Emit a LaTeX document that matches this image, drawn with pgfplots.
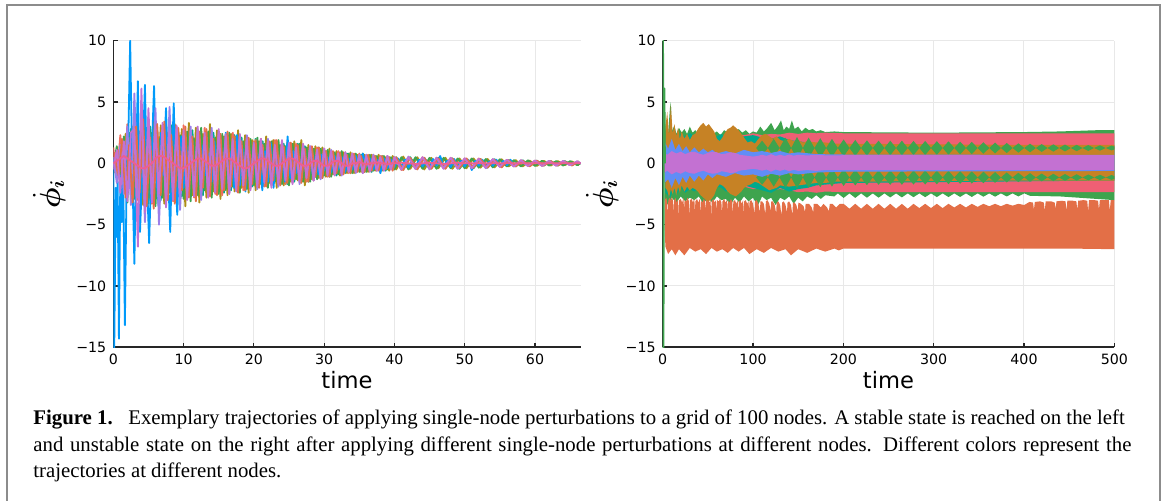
\documentclass[border=0pt]{standalone}
\usepackage{fontspec}
\setmainfont{Liberation Serif}
\setsansfont{DejaVu Sans}
\usepackage{bm}
\usepackage{pgfplots}
\usepackage{pgfplotstable}
\pgfplotsset{compat=1.18}

\definecolor{jblue}{HTML}{009AFA}
\definecolor{jorred}{HTML}{E36F47}
\definecolor{jgreen}{HTML}{3EA44E}
\definecolor{jpurple}{HTML}{C371D2}
\definecolor{jolive}{HTML}{AC8E18}
\definecolor{jteal}{HTML}{00A98D}
\definecolor{jpink}{HTML}{ED5E93}
\definecolor{jorange}{HTML}{C68225}
\definecolor{jlav}{HTML}{9B7FE9}
\definecolor{jblue2}{HTML}{618DF6}
\definecolor{jred}{HTML}{F16C5C}
\definecolor{jrose}{HTML}{EF5F74}
\definecolor{framegray}{HTML}{8C8C8C}

% left panel, nodes sampled every 0.5 (every 1 after t=40)
\pgfplotstableread{
t a b c g h
0 1.3 -0.3 0.5 -0.5 0.0
0.5 -1.2 1.4 -1.6 1.1 0.2
1.0 2.3 -2.0 1.5 -2.4 0.4
1.5 -1.8 2.2 -2.5 1.8 0.6
2.0 3.2 -3.2 3.0 -3.1 0.4
2.5 -2.6 2.8 -3.4 2.5 0.2
3.0 3.5 -2.9 5.7 2.8 0.0
3.5 -3.0 3.4 -2.8 -6.8 -0.2
4.0 3.8 -2.2 3.6 6.1 -0.4
4.5 -2.5 3.1 -4.8 -4.0 -0.4
5.0 3.7 -3.3 2.6 4.5 -0.2
5.5 -3.3 2.5 -3.0 -3.2 0.0
6.0 2.8 -3.5 4.5 3.0 0.4
6.5 -3.6 2.0 -5.0 -2.5 0.6
7.0 3.0 -2.8 2.4 3.3 0.6
7.5 -2.4 3.2 -3.1 -3.6 0.4
8.0 3.3 -2.4 4.6 2.6 0.2
8.5 -3.1 2.7 -2.6 -3.0 0.0
9.0 2.5 -3.0 3.0 3.1 -0.2
9.5 -2.9 2.3 -3.8 -2.4 -0.4
10 3.1 -2.9 2.2 2.7 -0.4
10.5 -2.2 2.6 -2.7 -3.0 -0.2
11 2.7 -3.1 3.0 2.0 0.0
11.5 -2.8 2.0 -2.3 -2.7 0.2
12 2.2 -2.6 2.8 3.0 0.4
12.5 -2.7 2.9 -3.0 -2.2 0.4
13 2.9 -2.2 2.1 2.5 0.2
13.5 -2.0 2.6 -2.6 -2.8 0.0
14 2.6 -2.8 2.9 2.2 -0.2
14.5 -2.5 2.1 -2.2 -2.4 -0.2
15 2.3 -2.5 2.6 2.8 0.0
15.5 -2.6 2.4 -2.0 -2.1 0.2
16 2.0 -2.2 2.4 2.3 0.4
16.5 -2.3 2.5 -2.5 -2.5 0.4
17 2.5 -1.9 2.0 1.9 0.2
17.5 -2.0 2.2 -2.3 -2.2 0.0
18 2.2 -2.4 2.2 2.4 -0.2
18.5 -2.2 1.8 -1.8 -1.8 -0.4
19 1.9 -2.1 2.3 2.0 -0.4
19.5 -2.1 2.0 -2.0 -2.2 -0.2
20 1.8 -1.8 1.7 1.6 0.0
20.5 -1.6 2.1 -2.1 -1.9 0.2
21 2.0 -1.7 1.9 2.0 0.4
21.5 -1.9 1.6 -1.6 -1.5 0.4
22 1.6 -2.0 2.0 1.8 0.2
22.5 -1.8 1.8 -1.8 -2.0 0.0
23 1.9 -1.5 1.5 1.5 -0.2
23.5 -1.5 1.9 -1.9 -1.7 -0.2
24 1.7 -1.7 1.8 1.9 0.0
24.5 -1.7 1.4 -1.4 -1.4 0.2
25 1.4 -1.8 1.7 1.6 0.4
25.5 -1.6 1.6 -1.6 -1.7 0.4
26 1.6 -1.3 1.3 1.3 0.2
26.5 -1.3 1.6 -1.7 -1.5 0.0
27 1.5 -1.5 1.5 1.6 -0.2
27.5 -1.5 1.3 -1.2 -1.2 -0.2
28 1.2 -1.5 1.4 1.4 0.0
28.5 -1.4 1.2 -1.4 -1.4 0.2
29 1.3 -1.3 1.1 1.1 0.2
29.5 -1.1 1.2 -1.3 -1.2 0.0
30 1.2 -1.0 1.2 1.2 -0.2
30.5 -1.1 1.1 -1.0 -0.9 -0.2
31 1.0 -1.1 1.1 1.0 0.0
31.5 -0.9 0.9 -0.9 -1.0 0.2
32 1.0 -0.9 0.8 0.8 0.2
32.5 -0.8 1.0 -1.0 -0.9 0.0
33 0.9 -0.8 0.9 0.9 -0.2
33.5 -0.8 0.8 -0.7 -0.7 -0.2
34 0.8 -0.8 0.8 0.8 0.0
34.5 -0.7 0.8 -0.8 -0.7 0.0
35 0.8 -0.7 0.7 0.7 0.1
35.5 -0.7 0.8 -0.8 -0.8 0.0
36 0.7 -0.7 0.7 0.6 -0.1
36.5 -0.6 0.7 -0.6 -0.7 0.0
37 0.7 -0.6 0.7 0.6 0.0
37.5 -0.6 0.6 -0.6 -0.6 0.1
38 0.6 -0.6 0.5 0.5 0.0
38.5 -0.5 0.6 -0.6 -0.6 0.0
39 0.6 -0.5 0.6 0.6 -0.1
39.5 -0.5 0.5 -0.5 -0.5 0.0
40 0.5 -0.5 0.5 0.5 0.0
41 -0.55 0.5 -0.5 -0.5 0.05
42 0.5 -0.5 0.55 0.5 0.0
43 -0.45 0.5 -0.45 -0.45 -0.05
44 0.5 -0.45 0.45 0.5 0.0
45 -0.45 0.45 -0.5 -0.45 0.05
46 0.45 -0.45 0.45 0.45 0.0
47 -0.4 0.45 -0.45 -0.4 -0.05
48 0.45 -0.4 0.4 0.45 0.0
49 -0.4 0.4 -0.45 -0.4 0.05
50 0.4 -0.4 0.4 0.4 0.0
51 -0.35 0.4 -0.35 -0.4 0.0
52 0.4 -0.35 0.35 0.35 0.0
53 -0.35 0.35 -0.4 -0.35 0.0
54 0.33 -0.33 0.33 0.33 0.0
55 -0.28 0.33 -0.28 -0.28 0.0
56 0.3 -0.26 0.26 0.3 0.0
57 -0.26 0.26 -0.26 -0.26 0.0
58 0.25 -0.25 0.25 0.25 0.0
59 -0.22 0.25 -0.22 -0.22 0.0
60 0.22 -0.22 0.22 0.22 0.0
61 -0.21 0.21 -0.18 -0.21 0.0
62 0.18 -0.18 0.21 0.18 0.0
63 -0.18 0.18 -0.18 -0.18 0.0
64 0.18 -0.18 0.18 0.18 0.0
65 -0.15 0.18 -0.15 -0.15 0.0
66 0.15 -0.15 0.15 0.15 0.0
66.5 0 0 0 0 0
}\tabA

\pgfplotstableread{
t d e f
0.25 -0.8 0.2 0.9
0.75 0.9 -0.8 -1.0
1.25 -1.5 1.8 2.0
1.75 2.4 -1.5 -2.8
2.25 -2.0 2.5 1.5
2.75 3.0 -2.8 -3.2
3.25 -3.1 2.2 3.0
3.75 2.6 -3.2 -2.4
4.25 -3.4 1.9 3.6
4.75 2.2 -2.6 -3.5
5.25 -2.9 3.0 2.1
5.75 3.4 -1.8 -3.7
6.25 -2.3 2.7 3.2
6.75 3.1 -3.0 -2.6
7.25 -3.3 2.0 3.4
7.75 2.5 -2.5 -3.0
8.25 -2.7 3.1 2.3
8.75 3.2 -1.9 -3.3
9.25 -2.2 2.6 2.9
9.75 2.8 -2.7 -2.2
10.25 -3.5 2.0 3.0
10.75 3.3 -2.4 -2.8
11.25 -2.6 2.7 2.2
11.75 2.9 -1.8 -3.1
12.25 -3.2 2.4 2.6
12.75 2.4 -2.6 -2.0
13.25 -2.8 1.9 2.8
13.75 3.2 -2.3 -2.7
14.25 -2.3 2.5 2.0
14.75 2.7 -2.0 -2.6
15.25 -2.9 2.2 2.4
15.75 2.2 -2.4 -2.2
16.25 -2.6 1.8 2.6
16.75 2.4 -2.2 -1.9
17.25 -2.3 2.3 2.2
17.75 2.7 -1.7 -2.4
18.25 -2.0 2.1 1.8
18.75 2.3 -2.1 -2.2
19.25 -2.4 1.7 2.1
19.75 1.9 -1.9 -1.7
20.25 -2.2 2.0 1.9
20.75 1.8 -1.5 -2.0
21.25 -1.9 1.8 1.5
21.75 2.2 -1.8 -1.9
22.25 -1.6 1.5 1.8
22.75 1.9 -1.7 -1.4
23.25 -2.0 1.8 1.9
23.75 1.5 -1.4 -1.8
24.25 -1.8 1.6 1.4
24.75 1.7 -1.7 -1.6
25.25 -1.5 1.3 1.7
25.75 1.8 -1.5 -1.3
26.25 -1.4 1.6 1.5
26.75 1.9 -1.2 -1.6
27.25 -1.8 1.4 1.2
27.75 1.5 -1.5 -1.5
28.25 -1.3 1.2 1.4
28.75 1.4 -1.1 -1.1
29.25 -1.2 1.3 1.3
29.75 1.3 -1.2 -1.2
30.25 -1.1 1.0 1.0
30.75 1.2 -1.1 -1.1
31.25 -0.9 0.9 1.0
31.75 1.0 -1.0 -0.8
32.25 -1.0 0.9 0.9
32.75 0.9 -0.8 -0.9
33.25 -0.8 0.8 0.7
33.75 0.9 -0.8 -0.8
34.25 -0.8 0.7 0.8
34.75 0.7 -0.6 -0.7
35.25 -0.7 0.7 0.6
35.75 0.7 -0.7 -0.7
36.25 -0.7 0.6 0.7
36.75 0.7 -0.7 -0.6
37.25 -0.6 0.6 0.6
37.75 0.7 -0.5 -0.6
38.25 -0.6 0.6 0.6
38.75 0.5 -0.6 -0.5
39.25 -0.6 0.5 0.5
39.75 0.6 -0.5 -0.6
40.25 -0.5 0.5 0.5
41.25 0.55 -0.5 -0.55
42.25 -0.45 0.5 0.45
43.25 0.5 -0.45 -0.5
44.25 -0.5 0.45 0.45
45.25 0.45 -0.4 -0.45
46.25 -0.4 0.45 0.4
47.25 0.45 -0.4 -0.45
48.25 -0.45 0.4 0.4
49.25 0.4 -0.45 -0.4
50.25 -0.4 0.35 0.4
51.25 0.4 -0.4 -0.35
52.25 -0.35 0.35 0.35
53.25 0.35 -0.35 -0.35
54.25 -0.33 0.33 0.28
55.25 0.33 -0.28 -0.33
56.25 -0.26 0.26 0.26
57.25 0.26 -0.26 -0.26
58.25 -0.25 0.25 0.22
59.25 0.22 -0.22 -0.25
60.25 -0.22 0.22 0.22
61.25 0.21 -0.18 -0.18
62.25 -0.18 0.18 0.18
63.25 0.18 -0.18 -0.18
64.25 -0.15 0.18 0.15
65.25 0.15 -0.15 -0.18
66.25 -0.15 0.15 0.15
}\tabB

\pgfplotsset{
  panel/.style={
    scale only axis, height=153.3pt,
    ymin=-15, ymax=10,
    axis lines*=left, xtick pos=bottom, ytick pos=left,
    axis line style={black!85, line width=0.8pt},
    tick align=inside, major tick length=2.2pt,
    tick style={black!85, line width=0.6pt},
    grid=major, major grid style={black!9, line width=0.5pt},
    ytick={-15,-10,-5,0,5,10},
    yticklabels={−15,−10,−5,0,5,10},
    tick label style={font=\sffamily\fontsize{7.1}{8}\selectfont},
    /pgf/number format/assume math mode=true,
    xlabel={time},
    xlabel style={at={(axis description cs:0.5,0)}, anchor=base,
      yshift=-20.85pt, font=\sffamily\fontsize{11.3}{13}\selectfont},
    ylabel={$\dot{\bm{\phi}}_{\bm{i}}$},
    ylabel style={anchor=center, font=\fontsize{14}{16}\selectfont},
  },
  trace/.style={line width=0.9pt, line join=round},
  band/.style={draw=none, fill=#1},
}

\begin{document}
\begin{tikzpicture}
\useasboundingbox (0,0) rectangle (582.5pt,250.5pt);
\draw[framegray, line width=1pt] (3.35pt,0) -- (3.35pt,248.15pt) -- (580pt,248.15pt) -- (580pt,0);

% ---------- left: stable ----------
\begin{axis}[panel, at={(56.65pt,76.85pt)}, width=233.7pt,
  xmin=0, xmax=66.5, xtick={0,10,...,60},
  ylabel style={at={(axis description cs:-0.137,0.5)}}]
\addplot[trace, jolive] table[x=t, y=d] {\tabB};
\addplot[trace, jteal] table[x=t, y=e] {\tabB};
\addplot[trace, jgreen] table[x=t, y=b] {\tabA};
\addplot[trace, jred] table[x=t, y=a] {\tabA};
\addplot[trace, jblue] coordinates {
(0,0.3)(0.12,-16)(0.35,-2)(0.5,-6.0)(0.62,-1.5)(0.8,-14.3)(1.0,-1)(1.2,-4.8)(1.4,-0.5)
(1.65,-13.2)(1.9,-1)(2.1,1)(2.4,10)(2.7,-0.5)(3.0,-8.2)(3.25,0.5)(3.5,6.7)(3.8,-5.6)
(4.1,-1)(4.5,6.4)(4.8,-1.5)(5.1,-6.5)(5.45,0.5)(5.8,6.3)(6.1,-1)(6.45,-3.5)(6.8,2.5)
(7.1,-1)(7.5,4.5)(7.8,-1)(8.1,-5.6)(8.35,0.5)(8.6,4.9)(8.85,-1)(9.1,-4.2)(9.4,1)
(9.7,2.2)(10,-2)(10.4,1.5)(10.8,-1.2)(11.2,2.0)(11.6,-1.5)(12,1.2)(12.4,-1.8)(12.8,1.5)
(13.2,-1)(13.6,0.8)(14,-1.5)(14.4,1.8)(14.8,-1.2)(15.2,1.4)(15.6,-0.8)(16,2.5)(16.4,-1.5)
(16.8,1.0)(17.2,-2.0)(17.6,2.3)(18,-1.8)(18.4,1.2)(18.8,-2.3)(19.2,1.5)(19.6,-1)(20,1.2)
(20.4,-1.6)(20.8,0.8)(21.2,-2.2)(21.6,1.0)(22,-1.5)(22.4,1.7)(22.8,-2.0)(23.2,1.2)
(23.6,-1.0)(24,0.8)(24.4,-1.5)(24.8,2.2)(25.2,-1.2)(25.6,1.0)(26,-0.8)(26.4,0.6)
(26.8,-1.0)(27.2,0.9)(27.6,-0.6)(28,0.8)(28.4,-1.0)(28.8,0.6)(29.2,-0.9)(29.6,0.7)
(30,-0.6)(30.5,0.5)(31,-0.7)(31.5,0.6)(32,-0.5)(32.5,0.5)(33,-0.7)(33.5,0.4)(34,-0.5)
(34.5,0.6)(35,-0.4)(35.5,0.8)(36,-0.3)(36.5,0.4)(37,-0.5)(37.5,0.3)(38,-0.8)(38.5,0.4)
(39,-0.4)(39.5,0.3)(40,-0.3)(40.5,0.4)(41,-0.3)(41.5,0.3)(42,-0.35)(42.5,0.25)(43,-0.3)
(43.5,0.3)(44,-0.25)(44.5,0.25)(45,-0.3)(45.5,0.35)(46,-0.2)(46.5,0.6)(47,-0.25)
(47.5,0.2)(48,-0.3)(48.5,0.35)(49,-0.2)(49.5,0.2)(50,-0.25)(50.5,0.3)(51,-0.55)
(51.5,0.2)(52,-0.2)(52.5,0.3)(53,-0.2)(53.5,0.15)(54,-0.2)(54.5,0.3)(55,-0.2)(55.5,0.2)
(56,-0.15)(56.5,0.3)(57,-0.2)(58,0.15)(59,-0.15)(60,0.1)(61,-0.12)(62,0.1)(63,-0.1)
(64,0.1)(65,-0.1)(66,0.08)(66.5,0)};
\addplot[trace, jlav] table[x=t, y=c] {\tabA};
\addplot[trace, jorred] table[x=t, y=f] {\tabB};
\addplot[trace, jpurple] table[x=t, y=g] {\tabA};
\addplot[trace, jpink] table[x=t, y=h] {\tabA};
\end{axis}

% ---------- right: unstable ----------
\begin{axis}[panel, at={(331.35pt,76.85pt)}, width=225.8pt,
  xmin=0, xmax=500, xtick={0,100,...,500},
  ylabel style={at={(axis description cs:-0.134,0.5)}}]
% green spread
\addplot[band=jgreen] coordinates {
(2,6.1)(3,2.5)(5,3.5)(6,2.4)(8,4.5)(9,5.0)(10,2.6)(13,3.1)(15,2.4)(18,2.9)(21,2.5)(24,2.8)
(27,2.4)(30,3.0)(33,2.5)(36,2.7)(40,2.4)(44,2.6)(48,2.3)(52,2.5)(56,2.4)(60,2.6)(64,2.3)
(68,2.7)(72,2.5)(76,2.6)(80,2.3)(84,2.8)(88,2.5)(92,2.7)(96,2.4)(100,2.6)(104,2.5)(108,3.0)
(112,2.6)(116,2.9)(120,3.3)(124,2.7)(128,3.1)(131,3.5)(134,2.7)(137,3.0)(140,2.8)(143,3.5)
(146,2.8)(150,3.0)(154,2.6)(158,2.9)(162,2.7)(166,2.8)(170,2.6)(175,2.7)(180,2.55)(190,2.6)
(200,2.55)(300,2.5)(400,2.55)(440,2.6)(480,2.7)(500,2.7)
(500,-3.0)(480,-2.9)(440,-2.7)(406.7,-2.65)(400.25,-2.45)(393.8,-2.7)(387.35,-2.45)
(380.9,-2.7)(374.45,-2.45)(368.0,-2.72)(361.55,-2.45)(355.1,-2.72)(348.65,-2.45)
(342.2,-2.74)(335.75,-2.45)(329.3,-2.74)(322.85,-2.45)(316.4,-2.75)(309.95,-2.45)
(303.5,-2.75)(297.05,-2.45)(290.6,-2.76)(284.15,-2.45)(277.7,-2.76)(271.25,-2.45)
(264.8,-2.78)(258.35,-2.45)(251.9,-2.78)(245.45,-2.45)(239.0,-2.8)(232.55,-2.45)
(226.1,-2.8)(219.65,-2.45)(213.2,-2.82)(206.75,-2.45)(200.3,-2.82)(193.85,-2.45)
(190,-2.7)(180,-2.6)(175,-2.9)
(170,-2.6)(165,-2.9)(160,-2.7)(155,-3.1)(150,-2.8)(145,-3.3)(140,-2.7)(135,-3.0)(130,-2.8)
(125,-3.4)(120,-2.8)(115,-3.0)(110,-2.7)(105,-3.5)(100,-2.8)(95,-3.1)(90,-2.7)(85,-3.2)
(80,-2.8)(75,-3.4)(70,-2.9)(65,-3.0)(60,-2.7)(55,-3.2)(50,-2.8)(45,-3.3)(40,-2.7)(35,-3.0)
(30,-2.8)(25,-3.1)(20,-2.7)(15,-3.2)(10,-2.8)(6,-3.4)(2,-3.0)};
% node with large negative offset
\addplot[band=jorred] coordinates {
(2,-2.4)(3,-3.0)(4,-2.8)(5,-3.2)(5.6,-4.3)(6.2,-3.0)(8,-2.8)(9,-3.1)(10,-2.7)(11.2,-3.0)
(11.8,-4.0)(12.4,-3.1)(14,-2.8)(15.5,-3.2)(17,-2.9)(17.6,-4.4)(18.2,-3.0)(20,-2.9)
(21.5,-3.2)(23,-2.8)(23.6,-3.9)(24.2,-3.0)(26,-3.1)(27.5,-2.8)(29,-3.1)(29.6,-4.5)
(30.2,-3.0)(32,-2.9)(33.5,-3.2)(35,-2.8)(35.6,-4.0)(36.2,-3.1)(38,-2.9)(39.5,-3.2)
(41,-2.9)(41.6,-4.3)(42.2,-3.0)(44,-3.2)(45.5,-2.9)(47,-3.1)(47.6,-3.9)(48.2,-3.0)
(50,-2.8)(51.5,-3.2)(53,-3.0)(53.6,-4.4)(54.2,-3.1)(56,-2.9)(57.5,-3.2)(59,-3.0)
(59.6,-4.0)(60.2,-3.0)(62,-3.1)(63.5,-2.9)(65,-3.2)(65.6,-4.2)(66.2,-3.1)(68,-2.9)
(69.5,-3.2)(71,-3.0)(71.6,-3.9)(72.2,-3.0)(74,-3.2)(75.5,-2.9)(77,-3.1)(77.6,-4.3)
(78.2,-3.1)(80,-3.0)(81.5,-3.3)(83,-3.0)(83.6,-4.0)(84.2,-3.1)(86,-3.0)(87.5,-3.3)
(89,-3.0)(89.6,-4.2)(90.2,-3.1)(92,-3.0)(93.5,-3.3)(95,-3.1)(95.6,-3.9)(96.2,-3.1)
(98,-3.0)(100,-3.3)(101.6,-4.1)(102.2,-3.1)(104,-3.0)(106,-3.3)(107.6,-4.0)(108.2,-3.1)
(110,-3.1)(112,-3.3)(113.6,-4.2)(114.2,-3.1)(116,-3.0)(118,-3.3)(119.6,-3.9)(120.2,-3.1)
(122,-3.1)(124,-3.4)(125.6,-4.1)(126.2,-3.2)(128,-3.1)(130,-3.4)(131.6,-4.3)(132.2,-3.2)
(134,-3.1)(136,-3.4)(137.6,-4.0)(138.2,-3.2)(140,-3.1)(142,-3.4)(143.6,-4.2)(144.2,-3.2)
(146,-3.2)(148,-3.4)(149.6,-3.9)(150.2,-3.2)(153,-3.3)(156,-3.5)(157.6,-4.0)(158.2,-3.3)
(162,-3.3)(165,-3.6)(166.6,-4.0)(167.2,-3.3)(171,-3.3)(175,-3.6)(178,-3.3)(182,-3.6)
(184,-3.9)(185,-3.3)(188,-3.3)(192,-3.6)(196,-3.3)
(200.3,-3.3)(206.7,-3.7)(213.2,-3.3)(219.6,-3.7)(226.1,-3.3)(232.5,-3.7)(239.0,-3.3)
(245.4,-3.7)(251.9,-3.3)(258.3,-3.7)(264.8,-3.3)(271.2,-3.7)(277.7,-3.3)(284.1,-3.65)
(290.6,-3.3)(297.0,-3.65)(303.5,-3.3)(309.9,-3.65)(316.4,-3.3)(322.8,-3.6)(329.3,-3.3)
(335.7,-3.6)(342.2,-3.3)(348.6,-3.55)(355.1,-3.3)(361.5,-3.5)(368.0,-3.3)(374.4,-3.5)
(380.9,-3.3)(387.3,-3.45)(393.8,-3.3)(400.2,-3.4)
(406,-3.15)(410,-3.2)(411,-3.8)(412,-3.15)(418,-3.1)(422,-3.2)(423,-3.9)(424,-3.1)
(430,-3.1)(434,-3.2)(435,-3.7)(436,-3.1)(442,-3.05)(446,-3.1)(447,-3.9)(448,-3.05)
(454,-3.05)(458,-3.1)(459,-3.8)(460,-3.05)(466,-3.0)(470,-3.05)(471,-3.9)(472,-3.0)
(478,-3.0)(482,-3.05)(483,-3.8)(484,-3.0)(490,-3.0)(494,-3.0)(495,-3.9)(496,-3.0)(500,-3.0)
(500,-7.0)(450,-6.95)(400,-6.95)(300,-6.95)(200,-6.95)(195,-7.1)(190,-6.95)(180,-7.2)
(170,-6.95)(160,-7.3)(150,-7.0)(142,-7.5)(136,-7.0)(128,-7.2)(120,-6.9)(112,-7.3)(104,-7.0)
(96,-7.4)(90,-6.9)(84,-7.2)(78,-6.9)(72,-7.3)(66,-7.0)(60,-7.2)(54,-6.9)(48,-7.4)(42,-7.0)
(36,-7.2)(30,-6.9)(24,-7.5)(18,-7.0)(14,-7.5)(10,-7.0)(6,-7.4)(3,-6.8)(2,-5.0)};
% rose band
\addplot[band=jrose] coordinates {
(60,2.0)(70,2.2)(80,2.4)(90,2.3)(100,2.45)(110,2.3)(120,2.4)(130,2.35)(140,2.5)(150,2.4)
(160,2.5)(170,2.45)(180,2.5)(200,2.45)(300,2.45)(400,2.45)(500,2.45)
(500,-2.35)(400,-2.35)(300,-2.35)(200,-2.35)(180,-2.3)(170,-2.4)(160,-2.3)(150,-2.35)
(140,-2.2)(130,-2.1)(120,-2.2)(110,-2.0)(100,-2.1)(90,-1.9)(80,-2.0)(70,-1.8)(60,-1.6)};
% teal
\addplot[band=jteal] coordinates {
(3,2.5)(8,2.0)(12,2.3)(16,2.1)(20,2.4)(25,2.2)(30,2.5)(35,2.2)(40,2.3)(45,2.0)(50,2.2)
(55,1.9)(60,2.2)(65,2.4)(70,2.1)(80,2.0)(90,2.2)(100,2.3)(110,2.1)(120,2.0)(130,2.2)
(140,1.9)(150,1.8)(160,1.7)(170,1.6)(185,1.5)(200,1.5)(500,1.45)
(500,-1.4)(200,-1.6)(185,-1.7)(170,-1.8)(160,-2.0)(150,-2.1)(140,-2.3)(130,-2.0)(120,-2.4)
(110,-2.2)(100,-2.0)(90,-1.8)(80,-2.1)(70,-2.3)(65,-2.0)(60,-1.9)(55,-2.1)(50,-1.8)
(45,-2.2)(40,-2.0)(35,-2.3)(30,-2.1)(25,-2.4)(20,-2.0)(16,-2.5)(12,-2.2)(8,-2.8)(3,-2.4)};
% orange
\addplot[band=jorange] coordinates {
(3,3.0)(5,4.2)(7,2.2)(9,4.8)(11,2.4)(13,3.2)(15,2.2)(17,2.9)(19,2.0)(21,2.6)(24,2.0)
(27,2.4)(30,1.9)(33,2.3)(36,2.4)(39,2.8)(42,3.1)(45,3.3)(48,3.0)(51,3.2)(54,2.9)(57,2.6)
(60,2.0)(63,1.8)(66,2.1)(69,2.5)(72,2.8)(75,2.9)(78,3.1)(81,2.9)(84,2.7)(87,2.4)(90,2.1)
(94,1.7)(98,1.8)(102,1.6)(106,2.0)(110,2.3)(114,2.4)(118,2.2)(122,2.0)(126,2.2)(130,1.9)
(135,1.8)(140,2.0)(145,1.8)(150,1.9)(155,1.7)(160,1.8)(170,1.7)(180,1.7)(190,1.6)(200,1.6)
(300,1.55)(400,1.5)(500,1.5)
(500,-1.4)(400,-1.4)(300,-1.45)(200,-1.5)(190,-1.5)(180,-1.6)(170,-1.6)(160,-1.7)
(150,-1.8)(140,-1.9)(130,-1.8)(126,-2.0)(122,-2.1)(118,-2.2)(114,-2.0)(110,-1.8)
(106,-1.6)(102,-1.5)(98,-1.7)(94,-1.8)(90,-2.0)(87,-2.3)(84,-2.5)(81,-2.7)(78,-2.6)
(75,-2.5)(72,-2.3)(69,-2.0)(66,-1.8)(63,-1.7)(60,-2.0)(57,-2.6)(54,-2.9)(51,-3.1)(48,-3.0)
(45,-2.8)(42,-2.6)(39,-2.3)(36,-2.1)(33,-2.0)(30,-2.2)(27,-1.9)(24,-2.3)(21,-1.8)(19,-2.4)
(17,-1.9)(15,-2.6)(13,-2.0)(11,-2.5)(9,-2.1)(7,-2.8)(5,-2.2)(3,-2.0)};
% green beats, upper row
\addplot[band=jgreen] coordinates {
(103.55,1.25)(110.0,1.85)(116.45,1.25)(122.9,2.0)(129.35,1.25)(135.8,2.1)(142.25,1.25)
(148.7,2.15)(155.15,1.25)(161.6,2.1)(168.05,1.25)(174.5,2.05)(180.95,1.25)(187.4,2.0)
(193.85,1.25)(200.3,1.95)(206.75,1.25)(213.2,1.91)(219.65,1.25)(226.1,1.88)(232.55,1.25)
(239.0,1.85)(245.45,1.25)(251.9,1.85)(258.35,1.25)(264.8,1.85)(271.25,1.25)(277.7,1.83)
(284.15,1.25)(290.6,1.83)(297.05,1.25)(303.5,1.81)(309.95,1.25)(316.4,1.8)(322.85,1.25)
(329.3,1.77)(335.75,1.25)(342.2,1.75)(348.65,1.25)(355.1,1.72)(361.55,1.25)(368.0,1.69)
(374.45,1.25)(380.9,1.66)(387.35,1.25)(393.8,1.63)(400.25,1.25)(406.7,1.6)(413.15,1.25)
(419.6,1.57)(426.05,1.25)(432.5,1.55)(438.95,1.25)(445.4,1.53)(451.85,1.25)(458.3,1.51)
(464.75,1.25)(471.2,1.49)(477.65,1.25)(484.1,1.47)(490.55,1.25)(497.0,1.45)(503.45,1.25)
(497.0,1.05)(490.55,1.25)(484.1,1.03)(477.65,1.25)(471.2,1.01)(464.75,1.25)(458.3,0.99)
(451.85,1.25)(445.4,0.97)(438.95,1.25)(432.5,0.95)(426.05,1.25)(419.6,0.93)(413.15,1.25)
(406.7,0.9)(400.25,1.25)(393.8,0.87)(387.35,1.25)(380.9,0.84)(374.45,1.25)(368.0,0.81)
(361.55,1.25)(355.1,0.78)(348.65,1.25)(342.2,0.75)(335.75,1.25)(329.3,0.73)(322.85,1.25)
(316.4,0.7)(309.95,1.25)(303.5,0.69)(297.05,1.25)(290.6,0.67)(284.15,1.25)(277.7,0.67)
(271.25,1.25)(264.8,0.65)(258.35,1.25)(251.9,0.65)(245.45,1.25)(239.0,0.65)(232.55,1.25)
(226.1,0.62)(219.65,1.25)(213.2,0.59)(206.75,1.25)(200.3,0.55)(193.85,1.25)(187.4,0.5)
(180.95,1.25)(174.5,0.45)(168.05,1.25)(161.6,0.4)(155.15,1.25)(148.7,0.35)(142.25,1.25)
(135.8,0.4)(129.35,1.25)(122.9,0.5)(116.45,1.25)(110.0,0.65)(103.55,1.25)};
% green beats, lower row
\addplot[band=jgreen] coordinates {
(103.55,-1.15)(110.0,-0.55)(116.45,-1.15)(122.9,-0.4)(129.35,-1.15)(135.8,-0.3)(142.25,-1.15)
(148.7,-0.25)(155.15,-1.15)(161.6,-0.3)(168.05,-1.15)(174.5,-0.35)(180.95,-1.15)(187.4,-0.4)
(193.85,-1.15)(200.3,-0.45)(206.75,-1.15)(213.2,-0.49)(219.65,-1.15)(226.1,-0.52)(232.55,-1.15)
(239.0,-0.55)(245.45,-1.15)(251.9,-0.55)(258.35,-1.15)(264.8,-0.55)(271.25,-1.15)(277.7,-0.57)
(284.15,-1.15)(290.6,-0.57)(297.05,-1.15)(303.5,-0.59)(309.95,-1.15)(316.4,-0.6)(322.85,-1.15)
(329.3,-0.63)(335.75,-1.15)(342.2,-0.65)(348.65,-1.15)(355.1,-0.68)(361.55,-1.15)(368.0,-0.71)
(374.45,-1.15)(380.9,-0.74)(387.35,-1.15)(393.8,-0.77)(400.25,-1.15)(406.7,-0.8)(413.15,-1.15)
(419.6,-0.83)(426.05,-1.15)(432.5,-0.85)(438.95,-1.15)(445.4,-0.87)(451.85,-1.15)(458.3,-0.89)
(464.75,-1.15)(471.2,-0.91)(477.65,-1.15)(484.1,-0.93)(490.55,-1.15)(497.0,-0.95)(503.45,-1.15)
(497.0,-1.35)(490.55,-1.15)(484.1,-1.37)(477.65,-1.15)(471.2,-1.39)(464.75,-1.15)(458.3,-1.41)
(451.85,-1.15)(445.4,-1.43)(438.95,-1.15)(432.5,-1.45)(426.05,-1.15)(419.6,-1.47)(413.15,-1.15)
(406.7,-1.5)(400.25,-1.15)(393.8,-1.53)(387.35,-1.15)(380.9,-1.56)(374.45,-1.15)(368.0,-1.59)
(361.55,-1.15)(355.1,-1.62)(348.65,-1.15)(342.2,-1.65)(335.75,-1.15)(329.3,-1.67)(322.85,-1.15)
(316.4,-1.7)(309.95,-1.15)(303.5,-1.71)(297.05,-1.15)(290.6,-1.73)(284.15,-1.15)(277.7,-1.73)
(271.25,-1.15)(264.8,-1.75)(258.35,-1.15)(251.9,-1.75)(245.45,-1.15)(239.0,-1.75)(232.55,-1.15)
(226.1,-1.78)(219.65,-1.15)(213.2,-1.81)(206.75,-1.15)(200.3,-1.85)(193.85,-1.15)(187.4,-1.9)
(180.95,-1.15)(174.5,-1.95)(168.05,-1.15)(161.6,-2.0)(155.15,-1.15)(148.7,-2.05)(142.25,-1.15)
(135.8,-2.0)(129.35,-1.15)(122.9,-1.9)(116.45,-1.15)(110.0,-1.75)(103.55,-1.15)};
% blue
\addplot[band=jblue2] coordinates {
(2,1.8)(6,1.2)(10,2.0)(14,1.1)(18,1.6)(22,1.0)(26,1.4)(30,0.9)(35,1.3)(40,0.9)(45,1.2)
(50,0.9)(55,1.1)(60,0.8)(70,1.0)(80,0.8)(90,1.1)(100,0.9)(110,1.0)(120,0.85)(130,1.0)
(140,0.8)(150,0.9)(170,0.75)(200,0.72)(500,0.68)
(500,-0.62)(200,-0.68)(170,-0.75)(150,-0.9)(140,-0.8)(130,-1.0)(120,-0.85)(110,-1.1)
(100,-0.9)(90,-1.0)(80,-0.8)(70,-1.1)(60,-0.9)(55,-1.2)(50,-0.9)(45,-1.4)(40,-1.0)
(35,-1.5)(30,-1.0)(26,-1.6)(22,-1.1)(18,-1.8)(14,-1.2)(10,-2.0)(6,-1.3)(2,-1.6)};
% purple
\addplot[band=jpurple] coordinates {
(1,0.9)(5,0.7)(10,1.0)(15,0.8)(20,0.95)(25,0.75)(30,0.9)(35,0.95)(40,0.8)(45,0.7)(50,0.85)
(55,0.95)(60,0.9)(65,0.75)(70,0.8)(75,0.9)(80,0.85)(85,0.7)(90,0.65)(95,0.6)(100,0.55)
(105,0.6)(110,0.7)(115,0.6)(120,0.75)(125,0.6)(130,0.7)(135,0.6)(140,0.72)(145,0.62)
(150,0.7)(160,0.64)(170,0.7)(180,0.65)(200,0.66)(500,0.66)
(500,-0.55)(200,-0.55)(180,-0.55)(170,-0.62)(160,-0.55)(150,-0.62)(145,-0.52)(140,-0.65)
(135,-0.5)(130,-0.62)(125,-0.5)(120,-0.68)(115,-0.5)(110,-0.6)(105,-0.5)(100,-0.45)
(95,-0.5)(90,-0.55)(85,-0.6)(80,-0.75)(75,-0.8)(70,-0.7)(65,-0.65)(60,-0.8)(55,-0.85)
(50,-0.75)(45,-0.6)(40,-0.7)(35,-0.85)(30,-0.8)(25,-0.65)(20,-0.85)(15,-0.7)(10,-0.9)
(5,-0.6)(1,-0.8)};
% initial kick
\addplot[trace, jgreen] coordinates {
(0,0)(0.4,10.5)(0.9,-15.5)(1.3,4)(1.9,6.1)(2.5,0)};
\end{axis}

% caption
\begin{scope}[every node/.style={anchor=base west, inner sep=0pt, font=\fontsize{10.4}{12}\selectfont}]
\node at (16.5pt,38pt) {\textbf{Figure 1.}\hspace{0.75em}Exemplary trajectories of applying single-node perturbations to a grid of 100 nodes. A stable state is reached on the left};
\node at (16.5pt,24.5pt) {\makebox[549pt][s]{and unstable state on the right after applying different single-node perturbations at different nodes. Different colors represent the}};
\node at (16.5pt,11.5pt) {trajectories at different nodes.};
\end{scope}
\end{tikzpicture}
\end{document}
